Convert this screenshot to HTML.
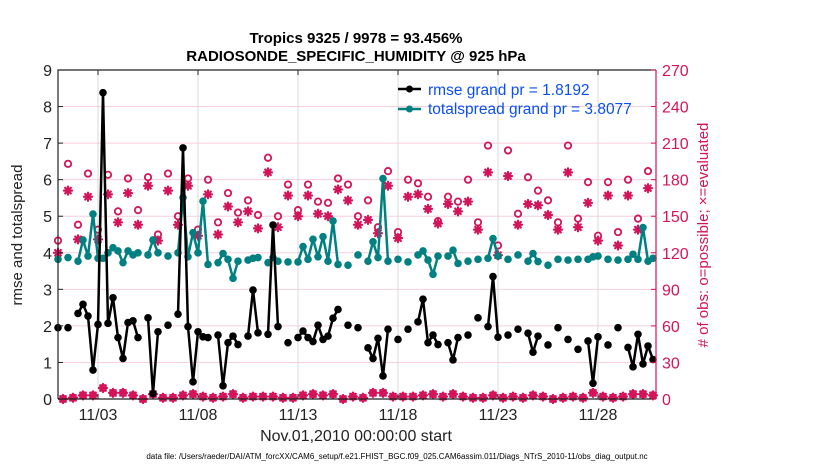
<!DOCTYPE html>
<html><head><meta charset="utf-8">
<style>
html,body{margin:0;padding:0;background:#fff;}
svg{display:block;font-family:"Liberation Sans",sans-serif;}
</style></head>
<body>
<svg id="chart" width="830" height="470" viewBox="0 0 830 470">
<text x="356" y="43" text-anchor="middle" font-size="15" font-weight="bold">Tropics 9325 / 9978 = 93.456%</text>
<text x="356" y="61" text-anchor="middle" font-size="15" font-weight="bold">RADIOSONDE_SPECIFIC_HUMIDITY @ 925 hPa</text>
<g id="grid"></g>
<g id="marks"></g>
<g id="axes"></g>
<text transform="translate(22,235) rotate(-90)" text-anchor="middle" font-size="15" fill="#222">rmse and totalspread</text>
<text transform="translate(708,235) rotate(-90)" text-anchor="middle" font-size="15" fill="#d4145a"># of obs: o=possible; &#215;=evaluated</text>
<text x="356" y="441" text-anchor="middle" font-size="16" fill="#222">Nov.01,2010 00:00:00 start</text>
<text x="397" y="459" text-anchor="middle" font-size="8" fill="#000">data file: /Users/raeder/DAI/ATM_forcXX/CAM6_setup/f.e21.FHIST_BGC.f09_025.CAM6assim.011/Diags_NTrS_2010-11/obs_diag_output.nc</text>
<g>
<g>
<line x1="398" y1="89" x2="421" y2="89" stroke="#000" stroke-width="2.5"/><circle cx="409.5" cy="89" r="3.5" fill="#000"/>
<text x="428" y="95" font-size="15.5" fill="#0a50f0">rmse grand pr = 1.8192</text></g>
<g>
<line x1="398" y1="109" x2="421" y2="109" stroke="#008080" stroke-width="2.5"/><circle cx="409.5" cy="109" r="3.5" fill="#008080"/>
<text x="428" y="114" font-size="15.5" fill="#0a50f0">totalspread grand pr = 3.8077</text></g>
</g>
</svg>
<script>
// index i => 6-hourly step from Nov 01 00:00 ; null = missing
const dateTicks = ["11/03","11/08","11/13","11/18","11/23","11/28"];
const dateTickDays = [2,7,12,17,22,27];
const leftTicks = [0,1,2,3,4,5,6,7,8,9];
const rightTicks = [0,30,60,90,120,150,180,210,240,270];
const rmsePts = {0:1.95,2:1.95,4:2.34,5:2.59,6:2.27,7:0.79,8:2.04,9:8.38,10:2.07,11:2.77,12:1.68,13:1.11,14:2.09,15:2.14,16:1.68,18:2.22,19:0.15,20:1.84,22:2.02,24:2.32,25:6.87,26:1.98,27:0.47,28:1.84,29:1.70,30:1.68,32:1.75,33:0.36,34:1.54,35:1.72,36:1.49,38:1.72,39:2.98,40:1.81,42:1.77,43:4.76,44:1.98,46:1.54,48:1.68,49:1.86,50:1.68,51:1.57,52:2.02,53:1.63,54:1.72,55:2.21,56:2.45,58:2.02,60:1.95,62:1.40,63:1.11,64:1.66,65:0.63,66:1.91,68:1.63,70:1.91,72:2.11,73:2.73,74:1.54,75:1.75,76:1.49,78:1.54,79:1.07,80:1.68,82:1.75,84:2.22,86:1.98,87:3.35,88:1.69,90:1.75,92:1.91,94:1.80,95:1.28,96:1.72,98:1.48,100:1.95,102:1.63,104:1.36,106:1.59,107:0.43,108:1.70,110:1.48,112:1.95,114:1.41,115:0.88,116:1.77,117:0.96,118:1.45,119:1.08};
const spreadPts = {0:3.82,2:3.87,4:3.77,5:4.35,6:3.91,7:5.06,8:3.85,9:3.85,10:4.00,11:4.14,12:4.05,13:3.73,14:4.05,15:3.94,16:4.00,18:3.94,19:4.35,20:4.00,22:3.91,24:4.00,25:5.51,26:3.89,27:4.55,28:4.00,29:5.41,30:3.68,32:3.73,33:3.98,34:3.82,35:3.30,36:3.77,38:3.80,39:3.85,40:3.87,42:3.73,43:3.87,44:3.77,46:3.75,48:3.75,49:4.17,50:3.82,51:4.37,52:3.89,53:4.44,54:3.77,55:4.87,56:3.68,58:3.66,60:3.94,62:3.77,63:4.30,64:3.87,65:6.03,66:3.77,68:3.82,70:3.75,72:3.94,73:4.05,74:3.80,75:3.41,76:3.91,78:3.91,79:4.07,80:3.71,82:3.77,84:3.82,86:3.85,87:4.39,88:3.91,90:3.82,92:3.94,94:3.77,95:3.98,96:3.76,98:3.66,100:3.82,102:3.80,104:3.82,106:3.82,107:3.89,108:3.91,110:3.82,112:3.80,114:3.82,115:3.96,116:3.82,117:4.69,118:3.77,119:3.85};
// even indices (00Z/12Z) possible & evaluated
const possibleEven = [130,193,143,185,139,184,154,181,155,182,135,185,150,181,139,180,145,169,153,163,151,198,150,176,155,176,162,161,181,176,150,163,141,187,137,180,177,166,146,166,162,180,145,208,126,204,152,182,171,163,145,208,148,178,134,178,137,180,148,187];
const evaluatedEven = [120,171,131,166,131,168,145,169,143,175,130,171,143,175,134,168,135,158,145,154,140,186,141,167,150,167,152,150,172,163,143,147,136,175,132,166,168,156,144,160,154,162,139,186,118,183,143,160,159,151,139,186,141,161,130,167,126,167,139,173];
// odd indices (06Z/18Z) evaluated (possible ~ same)
const evaluatedOdd = [0,1,3,3,9,5,5,3,0,4,1,1,3,4,2,1,2,4,1,2,2,2,1,1,3,4,3,4,0,2,1,5,5,2,2,2,3,4,2,4,2,1,1,3,1,2,1,3,2,0,1,2,1,5,2,1,2,4,4,3];

const X0=58, X1=656, Y0=399, Y1=70, NDAYS=29.9;
const xs = d => X0 + d/NDAYS*(X1-X0);
const xi = i => xs(i/4);
const yl = v => Y0 - v/9*(Y0-Y1);
const yr = v => Y0 - v/270*(Y0-Y1);
const NS="http://www.w3.org/2000/svg";
function mk(tag, attrs, parent){const e=document.createElementNS(NS,tag);for(const k in attrs)e.setAttribute(k,attrs[k]);parent.appendChild(e);return e;}
const grid=document.getElementById('grid'), marks=document.getElementById('marks'), axes=document.getElementById('axes');
const RED="#d4145a";

rightTicks.forEach(t=>{ if(t>0&&t<270){const l=mk('line',{x1:X0,x2:X1,y1:yr(t),y2:yr(t),stroke:'#f6cfdc','stroke-width':1},grid);

}});
dateTickDays.forEach((d,k)=>{const l=mk('line',{x1:xs(d),x2:xs(d),y1:Y1,y2:Y0,stroke:'#d8d8d8','stroke-width':1},grid);


const tk=mk('line',{x1:xs(d),x2:xs(d),y1:Y0,y2:Y0-5,stroke:'#222'},axes);


const tk2=mk('line',{x1:xs(d),x2:xs(d),y1:Y1,y2:Y1+5,stroke:'#222'},axes);


const t=mk('text',{x:xs(d),y:Y0+21,'text-anchor':'middle','font-size':16,fill:'#222'},axes);t.textContent=dateTicks[k];

});

function series(pts, color, name){
  const keys=Object.keys(pts).map(Number).sort((a,b)=>a-b);
  let seg=[];
  const flush=()=>{ if(seg.length>1){const p=mk('polyline',{points:seg.map(i=>xi(i)+','+yl(pts[i])).join(' '),fill:'none',stroke:color,'stroke-width':2.5,'stroke-linejoin':'round'},marks);
    
    } seg=[];};
  keys.forEach((i,k)=>{ if(k>0 && i!==keys[k-1]+1) flush(); seg.push(i);});
  flush();
  keys.forEach(i=>{const c=mk('circle',{cx:xi(i),cy:yl(pts[i]),r:3.8,fill:color},marks);
    
    });
}
function star(x,y){const g=mk('g',{stroke:RED,'stroke-width':2.2,'stroke-linecap':'round'},marks);
  
  
  const r=4;
  mk('line',{x1:x-r,y1:y,x2:x+r,y2:y},g);mk('line',{x1:x,y1:y-r,x2:x,y2:y+r},g);
  mk('line',{x1:x-r*0.7,y1:y-r*0.7,x2:x+r*0.7,y2:y+r*0.7},g);mk('line',{x1:x-r*0.7,y1:y+r*0.7,x2:x+r*0.7,y2:y-r*0.7},g);}
function ring(x,y){const c=mk('circle',{cx:x,cy:y,r:3.2,fill:'none',stroke:RED,'stroke-width':1.8},marks);
  
  }

possibleEven.forEach((v,k)=>ring(xi(2*k),yr(v)));
evaluatedEven.forEach((v,k)=>star(xi(2*k),yr(v)));
evaluatedOdd.forEach((v,k)=>{ring(xi(2*k+1),yr(v));star(xi(2*k+1),yr(v));});
series(spreadPts,'#008080','totalspread');
series(rmsePts,'#000','rmse');

// frame
const f1=mk('path',{d:`M${X0},${Y0} L${X0},${Y1} L${X1},${Y1}`,fill:'none',stroke:'#222','stroke-width':1.2},axes);


const f2=mk('line',{x1:X0,x2:X1,y1:Y0,y2:Y0,stroke:'#222','stroke-width':1.2},axes);


const f3=mk('line',{x1:X1,x2:X1,y1:Y0,y2:Y1,stroke:RED,'stroke-width':1.2},axes);


leftTicks.forEach(t=>{const tk=mk('line',{x1:X0,x2:X0+5,y1:yl(t),y2:yl(t),stroke:'#222'},axes);


const tx=mk('text',{x:X0-6,y:yl(t)+6,'text-anchor':'end','font-size':16,fill:'#222'},axes);tx.textContent=t;

});
rightTicks.forEach(t=>{const tk=mk('line',{x1:X1-5,x2:X1,y1:yr(t),y2:yr(t),stroke:RED},axes);


const tx=mk('text',{x:X1+6,y:yr(t)+6,'text-anchor':'start','font-size':16,fill:RED},axes);tx.textContent=t;

});
</script>
</body></html>
